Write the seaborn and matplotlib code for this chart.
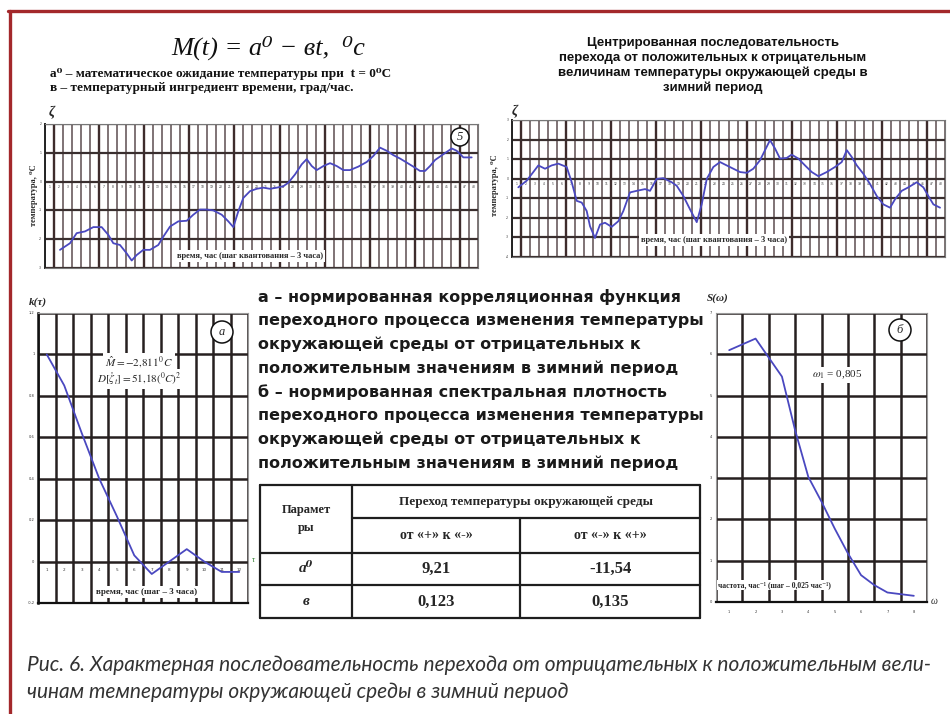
import matplotlib
matplotlib.use("Agg")
import matplotlib.pyplot as plt
import seaborn as sns
from matplotlib.patches import Circle
from matplotlib.lines import Line2D

# ---------------- data ----------------
# temperature sequence, winter period (step = 3 h)
seq_t = [1.66, 2.77, 3.51, 4.43, 5.36, 6.28, 7.02, 7.57, 8.31, 9.05, 9.61, 10.16,
         10.90, 11.64, 12.56, 13.12, 13.86, 14.78, 15.71, 16.44, 17.18, 17.92, 18.66,
         19.59, 20.32, 20.88, 21.43, 21.98, 22.73, 23.47, 24.20, 24.94, 25.69, 26.42,
         26.97, 27.72, 28.46, 29.01, 29.57, 30.12, 30.86, 31.60, 32.34, 33.07, 33.81,
         34.73, 35.66, 36.40, 37.14, 37.88, 38.61, 39.36, 40.10, 40.83, 41.57, 42.13,
         42.68, 43.24, 44.16, 45.09, 45.64, 46.38, 47.30]
seq_v = [-2.37, -2.14, -1.79, -1.73, -1.58, -1.58, -1.85, -2.14, -2.20, -2.49, -2.74, -2.55,
         -2.37, -2.37, -2.20, -1.91, -1.56, -1.38, -1.36, -1.15, -0.97, -0.97, -1.00,
         -1.15, -1.38, -1.58, -1.03, -0.57, -0.33, -0.25, -0.21, -0.25, -0.21, -0.16,
         -0.04, 0.25, 0.60, 0.78, 0.54, 0.40, 0.54, 0.64, 0.54, 0.40, 0.40,
         0.52, 0.68, 0.89, 1.18, 1.07, 0.92, 0.80, 0.66, 0.52, 0.37, 0.37,
         0.54, 0.75, 0.95, 1.15, 1.07, 0.84, 0.84]

# centred sequence
cen_t = [0.70, 1.63, 2.36, 2.92, 3.66, 4.40, 5.13, 6.06, 6.62, 7.17, 7.73, 8.28, 8.65,
         9.20, 9.76, 10.31, 11.05, 11.79, 12.34, 13.08, 13.82, 14.75, 15.30, 16.04,
         16.78, 17.70, 18.26, 18.99, 19.73, 20.48, 21.03, 21.59, 22.32, 23.06, 23.80,
         24.54, 25.28, 26.02, 26.75, 27.49, 28.05, 28.60, 29.16, 29.71, 30.45, 31.00,
         31.74, 32.48, 33.23, 33.96, 34.89, 35.81, 36.55, 37.11, 37.66, 38.22, 38.95,
         39.69, 40.43, 41.16, 41.91, 42.46, 43.20, 43.94, 44.87, 45.60, 46.15, 46.71, 47.45]
cen_v = [-0.44, -0.10, 0.34, 0.68, 0.51, 0.68, 0.77, 0.60, -0.18, -1.13, -1.22, -1.65, -2.43,
         -3.03, -2.34, -2.25, -2.46, -2.17, -1.65, -0.70, -0.62, -0.53, -0.62, -0.01,
         0.03, -0.18, -0.36, -0.88, -1.56, -2.22, -1.31, -0.01, 0.60, 0.85, 0.68,
         0.51, 0.34, 0.30, 0.51, 0.94, 1.46, 1.97, 1.54, 1.03, 1.06, 1.23,
         1.03, 0.68, 0.34, 0.13, 0.34, 0.60, 0.85, 1.46, 1.11, 0.68, 0.25,
         -0.27, -0.88, -1.31, -1.48, -1.05, -0.62, -0.44, -0.18, -0.44, -0.88, -1.31, -1.48]

# normalised correlation function k(tau)
lag = [1, 2, 3, 4, 5, 6, 7, 8, 9, 10, 11, 12]
corr = [1.00, 0.85, 0.62, 0.40, 0.22, 0.03, -0.06, 0.00, 0.06, 0.00, -0.05, -0.05]

# normalised spectral density S(omega), step 0.025 1/h
omega = [0.0125, 0.025, 0.0375, 0.05, 0.0625, 0.075, 0.0875, 0.10,
         0.1125, 0.125, 0.1375, 0.15, 0.1625, 0.175, 0.1875]
spec = [6.10, 6.24, 6.38, 5.92, 5.46, 4.16, 3.03, 2.43,
        1.78, 1.18, 0.65, 0.41, 0.23, 0.19, 0.15]

# parameters of the trend M(t) = a0 - b t
tab_cols = ["от «+» к «-»", "от «-» к «+»"]
tab_rows = ["a⁰", "в"]
tab_vals = [["9,21", "-11,54"], ["0,123", "0,135"]]

text_block = [
    "а – нормированная корреляционная функция",
    "переходного процесса изменения температуры",
    "окружающей среды от отрицательных к",
    "положительным значениям в зимний период",
    "б – нормированная спектральная плотность",
    "переходного процесса изменения температуры",
    "окружающей среды от отрицательных к",
    "положительным значениям в зимний период",
]

# ---------------- figure ----------------
sns.set_theme(style="white")
plt.rcParams["font.family"] = ["DejaVu Sans"]
plt.rcParams["mathtext.fontset"] = "stix"

W, H = 950, 714
fig = plt.figure(figsize=(W / 100, H / 100), dpi=100)
fig.patch.set_facecolor("white")

LINE = "#4a48c0"
SERIF = ["Liberation Serif", "DejaVu Serif"]


def px_box(x0, y0, x1, y1):
    return [x0 / W, 1 - y1 / H, (x1 - x0) / W, (y1 - y0) / H]


def frame(ax, lw=0.8, color="#777777"):
    ax.set_xticks([])
    ax.set_yticks([])
    for s in ax.spines.values():
        s.set_color(color)
        s.set_linewidth(lw)


def dense_grid(ax, ylo, yhi):
    ax.set_xlim(0, 48)
    ax.set_ylim(ylo, yhi)
    frame(ax)
    for i in range(49):
        dark = (i % 5 == 1)
        ax.axvline(i, color="#3e2c2c" if dark else "#75686a",
                   lw=1.7 if dark else 1.3, zorder=1)
    for y in range(ylo, yhi + 1):
        ax.axhline(y, color="#3a2f2f", lw=1.6, zorder=1)
    ax.spines["left"].set_color("#222222")
    ax.spines["left"].set_linewidth(1.4)
    for i in range(48):
        ax.text(i + 0.5, -0.2 * (yhi - ylo) / 5, str(i + 1), fontsize=2.2,
                ha="center", va="center", color="#333333", zorder=2)
    for y in range(ylo, yhi + 1):
        ax.text(-0.35, y, str(y), fontsize=2.2, ha="right", va="center",
                color="#333333", clip_on=False)


# upper-left: temperature sequence
ax1 = fig.add_axes(px_box(45, 124, 478, 268))
dense_grid(ax1, -3, 2)
sns.lineplot(x=seq_t, y=seq_v, ax=ax1, color=LINE, lw=1.3, zorder=3)
ax1.set_xlabel("")
ax1.set_ylabel("")

# upper-right: centred sequence
ax2 = fig.add_axes(px_box(512, 120, 945, 257))
dense_grid(ax2, -4, 3)
sns.lineplot(x=cen_t, y=cen_v, ax=ax2, color=LINE, lw=1.3, zorder=3)
ax2.set_xlabel("")
ax2.set_ylabel("")

# lower-left: correlation function
ax3 = fig.add_axes(px_box(38, 313, 248, 603))
ax3.set_xlim(0.5, 12.5)
ax3.set_ylim(-0.2, 1.2)
frame(ax3, color="#999999")
for k in range(13):
    ax3.axvline(k + 0.5, color="#262020", lw=1.8, zorder=1)
for j in range(8):
    ax3.axhline(-0.2 + 0.2 * j, color="#262020", lw=1.8, zorder=1)
ax3.spines["left"].set_color("#111111")
ax3.spines["left"].set_linewidth(1.8)
ax3.spines["bottom"].set_color("#111111")
ax3.spines["bottom"].set_linewidth(1.6)
sns.lineplot(x=lag, y=corr, ax=ax3, color=LINE, lw=1.3, zorder=3)
ax3.set_xlabel("")
ax3.set_ylabel("")
for k in lag:
    ax3.text(k, -0.04, str(k), fontsize=3, ha="center", va="center", color="#333333")
for j in range(8):
    v = -0.2 + 0.2 * j
    ax3.text(0.3, v, f"{v:g}".replace(".", ","), fontsize=2.6, ha="right",
             va="center", color="#333333", clip_on=False)

# lower-right: spectral density
ax4 = fig.add_axes(px_box(716, 313, 927, 602))
ax4.set_xlim(0, 0.2)
ax4.set_ylim(0, 7)
frame(ax4, color="#999999")
for k in range(9):
    ax4.axvline(0.025 * k, color="#262020", lw=1.8, zorder=1)
for j in range(8):
    ax4.axhline(j, color="#262020", lw=1.8, zorder=1)
ax4.spines["bottom"].set_color("#111111")
ax4.spines["bottom"].set_linewidth(1.6)
sns.lineplot(x=omega, y=spec, ax=ax4, color=LINE, lw=1.3, zorder=3)
ax4.set_xlabel("")
ax4.set_ylabel("")
for k in range(8):
    ax4.text(0.0125 + 0.025 * k, -0.25, str(k + 1), fontsize=2.6, ha="center",
             va="center", color="#333333", clip_on=False)
for j in range(8):
    ax4.text(-0.004, j, str(j), fontsize=2.6, ha="right", va="center",
             color="#333333", clip_on=False)

# ---------------- overlay with texts, table and frame ----------------
ov = fig.add_axes([0, 0, 1, 1])
ov.set_xlim(0, W)
ov.set_ylim(H, 0)
ov.axis("off")
ov.patch.set_alpha(0)

red = "#a3282b"
ov.add_line(Line2D([8, 950], [11, 11], color=red, lw=2.4))
ov.add_line(Line2D([10, 10], [11, 714], color=red, lw=2.4))

# formula and notations
ov.text(268, 48, "M(t) = a⁰ − вt,  ⁰c", fontsize=19, family=SERIF, style="italic",
        ha="center", va="center", color="#111111")
ov.text(50, 74, "a⁰ – математическое ожидание температуры при  t = 0⁰C", fontsize=9.5,
        family=SERIF, weight="bold", ha="left", va="center", color="#111111")
ov.text(50, 88, "в – температурный ингредиент времени, град/час.", fontsize=9.5,
        family=SERIF, weight="bold", ha="left", va="center", color="#111111")
ov.text(52, 113, "ζ", fontsize=10, family=SERIF, style="italic", weight="bold",
        ha="center", va="center")
ov.text(515, 112, "ζ", fontsize=10, family=SERIF, style="italic", weight="bold",
        ha="center", va="center")

title_r = ["Центрированная последовательность",
           "перехода от положительных к отрицательным",
           "величинам температуры окружающей среды в",
           "зимний период"]
for i, s in enumerate(title_r):
    ov.text(713, 43 + 15 * i, s, fontsize=9.5, weight="bold",
            family=["Liberation Sans", "DejaVu Sans"],
            ha="center", va="center", color="#111111")

# axis captions of the upper panels
for x, y in [(34, 195), (495, 185)]:
    ov.text(x, y, "температура, ⁰C", fontsize=6, family=SERIF, weight="bold",
            rotation=90, ha="center", va="center")
ov.text(250, 256, "время, час (шаг квантования – 3 часа)", fontsize=6, family=SERIF,
        weight="bold", ha="center", va="center",
        bbox=dict(facecolor="white", edgecolor="none", pad=1.5))
ov.text(714, 240, "время, час (шаг квантования – 3 часа)", fontsize=6, family=SERIF,
        weight="bold", ha="center", va="center",
        bbox=dict(facecolor="white", edgecolor="none", pad=1.5))


def circled(x, y, r, s):
    ov.add_patch(Circle((x, y), r, facecolor="white", edgecolor="#111111", lw=1.1, zorder=5))
    ov.text(x, y, s, fontsize=9, family=SERIF, style="italic", ha="center",
            va="center", zorder=6)


circled(460, 137, 9, "5")
circled(222, 332, 11, "а")
circled(900, 330, 11, "б")

# lower-left annotations
ov.text(38, 302, "k(τ)", fontsize=8, family=SERIF, style="italic", weight="bold",
        ha="center", va="center")
ov.text(139, 362, r"$\hat{M} = -2{,}811^0\,C$", fontsize=8, ha="center", va="center",
        bbox=dict(facecolor="white", edgecolor="none", pad=1.0))
ov.text(139, 379, r"$D[\mathring{\zeta}_t] = 51{,}18(^0C)^2$", fontsize=8,
        ha="center", va="center",
        bbox=dict(facecolor="white", edgecolor="none", pad=1.0))
ov.text(147, 592, "время, час (шаг – 3 часа)", fontsize=6.5, family=SERIF,
        weight="bold", ha="center", va="center",
        bbox=dict(facecolor="white", edgecolor="none", pad=1.2))
ov.text(253, 560, "τ", fontsize=6, family=SERIF, style="italic", color="#2a7a2a",
        ha="center", va="center")

# lower-right annotations
ov.text(718, 298, "S(ω)", fontsize=8, family=SERIF, style="italic", weight="bold",
        ha="center", va="center")
ov.text(837, 375, r"$\omega_1$ = 0,805", fontsize=8, family=SERIF, ha="center",
        va="center", bbox=dict(facecolor="white", edgecolor="none", pad=1.0))
ov.text(718, 585, "частота, час⁻¹ (шаг – 0,025 час⁻¹)", fontsize=5.5, family=SERIF,
        weight="bold", ha="left", va="center",
        bbox=dict(facecolor="white", edgecolor="none", pad=1.0))
ov.text(934, 602, "ω", fontsize=7, family=SERIF, style="italic", ha="center",
        va="center")

# middle text block
for i, s in enumerate(text_block):
    ov.text(258, 297 + 23.7 * i, s, fontsize=11.5, weight="bold", ha="left",
            va="center", color="#1a1a1a")

# table with the trend parameters
tc = "#1e1e1e"
tx0, tx1, tx2, tx3 = 260, 352, 520, 700
ty0, ty1, ty2, ty3, ty4 = 485, 518, 553, 585, 618
for (xa, xb, ya, yb) in [
    (tx0, tx3, ty0, ty0), (tx0, tx3, ty4, ty4), (tx0, tx0, ty0, ty4), (tx3, tx3, ty0, ty4),
    (tx1, tx3, ty1, ty1), (tx0, tx3, ty2, ty2), (tx0, tx3, ty3, ty3),
    (tx1, tx1, ty0, ty4), (tx2, tx2, ty1, ty4)]:
    ov.add_line(Line2D([xa, xb], [ya, yb], color=tc, lw=1.6))
ov.text((tx0 + tx1) / 2, (ty0 + ty2) / 2, "Парамет\nры", fontsize=9, family=SERIF,
        weight="bold", ha="center", va="center", linespacing=1.6)
ov.text((tx1 + tx3) / 2, (ty0 + ty1) / 2, "Переход температуры окружающей среды",
        fontsize=9.5, family=SERIF, weight="bold", ha="center", va="center")
ov.text((tx1 + tx2) / 2, (ty1 + ty2) / 2, tab_cols[0], fontsize=10, family=SERIF,
        weight="bold", ha="center", va="center")
ov.text((tx2 + tx3) / 2, (ty1 + ty2) / 2, tab_cols[1], fontsize=10, family=SERIF,
        weight="bold", ha="center", va="center")
for r, (name, vals) in enumerate(zip(tab_rows, tab_vals)):
    yc = [(ty2 + ty3) / 2, (ty3 + ty4) / 2][r]
    ov.text((tx0 + tx1) / 2, yc, name, fontsize=11, family=SERIF, weight="bold",
            style="italic", ha="center", va="center")
    ov.text((tx1 + tx2) / 2, yc, vals[0], fontsize=12, family=SERIF, weight="bold",
            ha="center", va="center")
    ov.text((tx2 + tx3) / 2, yc, vals[1], fontsize=12, family=SERIF, weight="bold",
            ha="center", va="center")

# caption
cap_font = ["Lato", "DejaVu Sans"]
ov.text(27, 665, "Рис. 6. Характерная последовательность перехода от отрицательных к положительным вели-",
        fontsize=15, family=cap_font, style="italic", ha="left", va="center", color="#333333")
ov.text(27, 692, "чинам температуры окружающей среды в зимний период",
        fontsize=15, family=cap_font, style="italic", ha="left", va="center", color="#333333")

fig.savefig("out.png", dpi=100, facecolor="white")
